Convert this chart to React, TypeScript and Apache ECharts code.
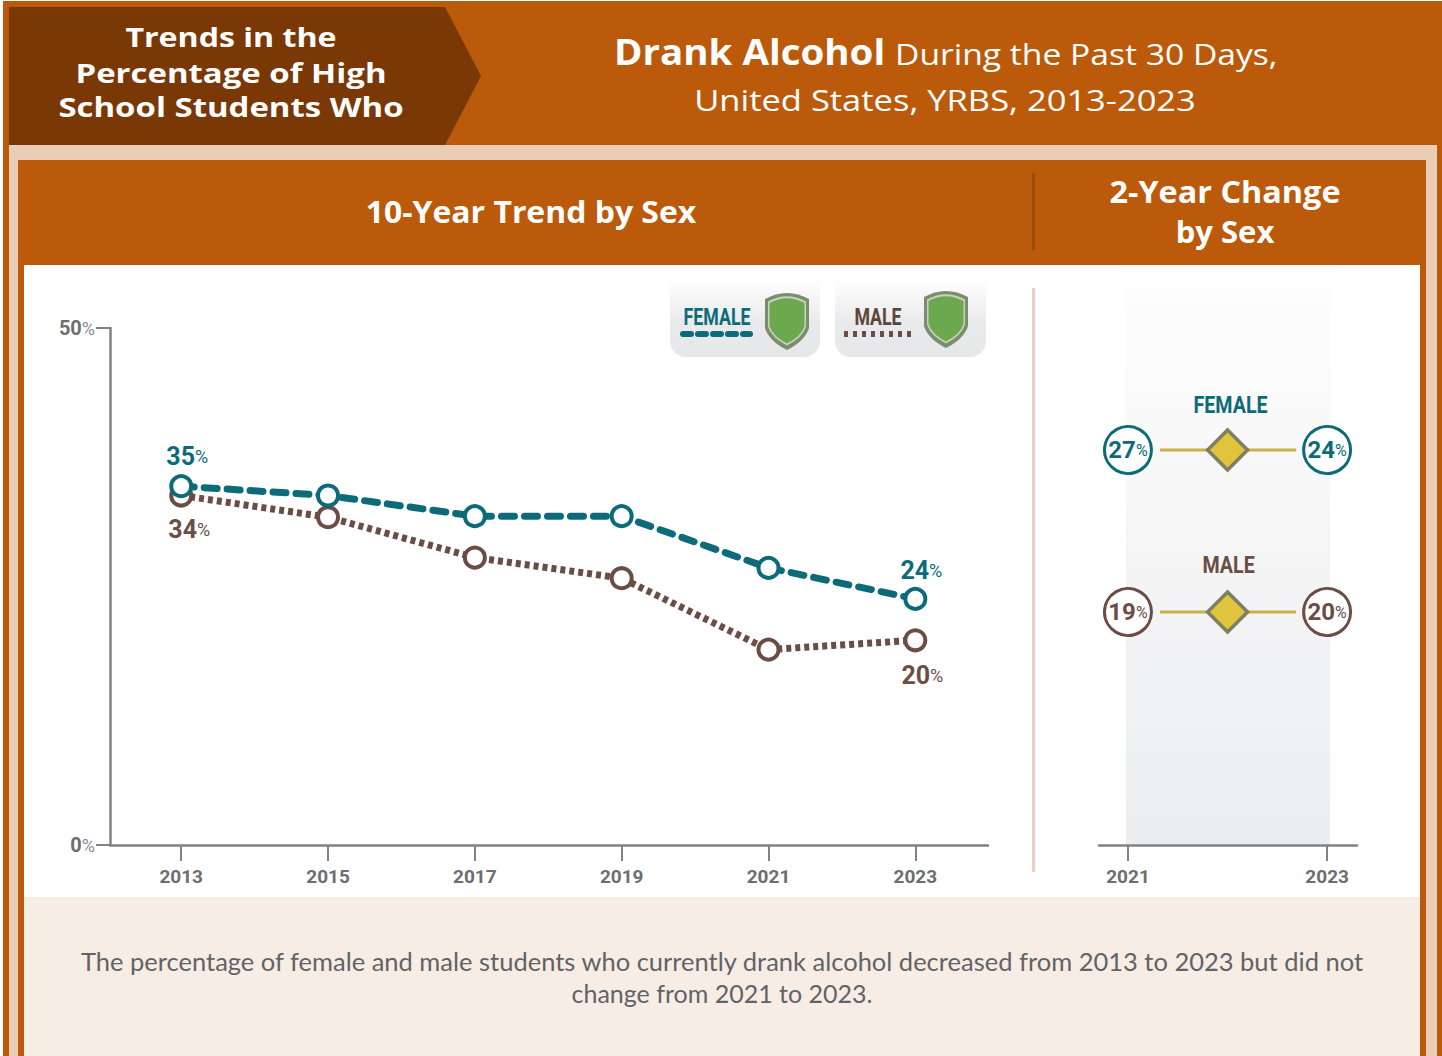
import React, { useEffect, useRef } from "react";
import * as echarts from "echarts";

const years = [2013, 2015, 2017, 2019, 2021, 2023];
const femaleValues = [34.7, 33.8, 31.8, 31.8, 26.8, 23.8];
const maleValues = [33.8, 31.7, 27.8, 25.8, 18.9, 19.8];
const femaleLabels: Record<number, string> = { 0: "35", 5: "24" };
const maleLabels: Record<number, string> = { 0: "34", 5: "20" };
const changeYears = [2021, 2023];
const changeRows = ["FEMALE", "MALE"];
const femaleChange = [27, 24];
const maleChange = [19, 20];
const yTicks = [0, 50];

const TEAL = "#0d6b79";
const BROWN = "#6b4d45";
const ORANGE = "#bc5a0b";
const PEACH = "#e9cdb6";
const GREY = "#6d6e71";
const NARROW = "Roboto";
const HEAD = "'Open Sans'";

echarts.graphic.registerShape(
  "shield",
  echarts.graphic.extendPath("M0 7 Q22 -5 44 7 L44 36 Q40 49 22 58 Q4 49 0 36 Z", {})
);

const rect = (x: number, y: number, w: number, h: number, fill: any, extra: any = {}) => ({
  type: "rect", silent: true, shape: { x, y, width: w, height: h, ...extra }, style: { fill },
});
const text = (t: string, x: number, y: number, font: string, fill: string, align = "center", scaleX = 1) => ({
  type: "text", silent: true, x, y, scaleX,
  style: { text: t, font, fill, align, verticalAlign: "middle" },
});
const shield = (x: number, y: number) => [
  { type: "shield", silent: true, x, y, scaleX: 1, scaleY: 1, style: { fill: "#7c8c6c" } },
  { type: "shield", silent: true, x: x + 3, y: y + 3.5, scaleX: 38 / 44, scaleY: 50 / 58, style: { fill: "#c9d2c0" } },
  { type: "shield", silent: true, x: x + 4.5, y: y + 5.5, scaleX: 35 / 44, scaleY: 46 / 58, style: { fill: "#6ba84e" } },
];
const legendGrad = () =>
  new echarts.graphic.LinearGradient(0, 0, 0, 1, [
    { offset: 0, color: "#ffffff" },
    { offset: 0.55, color: "#e9eaec" },
    { offset: 1, color: "#e6e7e9" },
  ]);

const pctLabel = (color: string, size: number, small: number) => ({
  a: { color, fontFamily: NARROW, fontWeight: "bold" as const, fontSize: size },
  b: { color, fontFamily: NARROW, fontSize: small },
});

const background = [
  rect(3, 1, 1439, 1055, ORANGE),
  { type: "polygon", silent: true, shape: { points: [[9, 7], [445, 7], [481, 76], [445, 145], [9, 145]] }, style: { fill: "#7a3806" } },
  rect(9, 145, 1428, 911, PEACH),
  rect(18, 160, 1408, 896, ORANGE),
  rect(24, 265, 1396, 632, "#ffffff"),
  rect(24, 897, 1396, 159, "#f7ede5"),
  rect(1126, 265, 204, 580, new echarts.graphic.LinearGradient(0, 0, 0, 1, [
    { offset: 0, color: "#fefefe" },
    { offset: 0.5, color: "#f5f5f6" },
    { offset: 1, color: "#ecedef" },
  ])),
  rect(1032, 173, 3, 77, "#9c4b0a"),
  rect(1032, 288, 3, 584, "#ecd0bd"),
  text("Trends in the", 231, 37, `bold 27px ${HEAD}`, "#ffffff", "center", 1.19),
  text("Percentage of High", 231, 73, `bold 27px ${HEAD}`, "#ffffff", "center", 1.22),
  text("School Students Who", 231, 107, `bold 27px ${HEAD}`, "#ffffff", "center", 1.22),
  text("Drank Alcohol", 614, 52, `bold 35px ${HEAD}`, "#ffffff", "left", 1.1),
  text("During the Past 30 Days,", 895, 53, `29px ${HEAD}`, "#ffffff", "left", 1.16),
  text("United States, YRBS, 2013-2023", 945, 100, `29px ${HEAD}`, "#ffffff", "center", 1.19),
  text("10-Year Trend by Sex", 531, 211, `bold 31px ${HEAD}`, "#ffffff", "center", 1.03),
  text("2-Year Change", 1225, 191, `bold 31px ${HEAD}`, "#ffffff", "center", 1.045),
  text("by Sex", 1225, 231, `bold 31px ${HEAD}`, "#ffffff", "center", 1.0),
  rect(670, 280, 150, 77, legendGrad(), { r: [0, 0, 16, 16] }),
  rect(835, 280, 151, 77, legendGrad(), { r: [0, 0, 16, 16] }),
  text("FEMALE", 717, 316, `bold 24px ${NARROW}`, TEAL, "center", 0.74),
  text("MALE", 878, 316, `bold 24px ${NARROW}`, "#5b4636", "center", 0.74),
  { type: "line", silent: true, shape: { x1: 683, y1: 334, x2: 750, y2: 334 }, style: { stroke: TEAL, lineWidth: 6, lineDash: [8, 7], lineCap: "round" } },
  { type: "line", silent: true, shape: { x1: 844, y1: 334, x2: 911, y2: 334 }, style: { stroke: BROWN, lineWidth: 6, lineDash: [4, 5] } },
  ...shield(765, 292),
  ...shield(924, 290),
  text("The percentage of female and male students who currently drank alcohol decreased from 2013 to 2023 but did not", 722, 961, `25px Lato`, "#626366", "center", 1.02),
  text("change from 2021 to 2023.", 722, 993, `25px Lato`, "#626366", "center", 1.0),
];

const lineSeries = (name: string, values: number[], labels: Record<number, string>, color: string, dash: number[], cap: string, offsets: Record<number, number[]>, z: number, width: number) => ({
  type: "line", name, xAxisIndex: 0, yAxisIndex: 0, z,
  data: values.map((v, i) => ({
    value: [years[i], v],
    label: labels[i] ? {
      show: true, position: "inside", offset: offsets[i],
      formatter: `{a|${labels[i]}}{b|%}`, rich: pctLabel(color, 25, 18),
    } : { show: false },
  })),
  symbol: "circle", symbolSize: 20, showAllSymbol: true,
  itemStyle: { color: "#ffffff", borderColor: color, borderWidth: 4, opacity: 1 },
  lineStyle: { color, width, type: dash, cap },
});

const changeSeries = (name: string, row: number, vals: number[], color: string) => ({
  type: "scatter", name, xAxisIndex: 2, yAxisIndex: 2, z: 6,
  symbol: "circle", symbolSize: 47,
  itemStyle: { color: "#ffffff", borderColor: color, borderWidth: 3, opacity: 1 },
  data: changeYears.map((y, i) => ({
    value: [y, row],
    label: { show: true, position: "inside", formatter: `{a|${vals[i]}}{b|%}`, rich: pctLabel(color, 24, 16) },
  })),
});

const rowColors = [TEAL, BROWN];

const option: any = {
  animation: false,
  graphic: { elements: background },
  grid: [
    { left: 110, top: 328, width: 878, height: 517 },
    { left: 1099, top: 265, width: 258, height: 580 },
    { left: 1099, top: 369, width: 258, height: 324 },
  ],
  xAxis: [
    {
      type: "value", gridIndex: 0, min: 2012.03, max: 2023.99,
      axisLine: { onZero: false, lineStyle: { color: "#808285", width: 2.5 } },
      axisTick: { customValues: years, length: 16, lineStyle: { color: "#808285", width: 2 } },
      axisLabel: { customValues: years, margin: 21.5, color: GREY, fontFamily: "Roboto", fontWeight: "bold", fontSize: 19, formatter: (v: number) => String(v), showMinLabel: true, showMaxLabel: true },
      splitLine: { show: false },
    },
    {
      type: "value", gridIndex: 1, min: 2020.709, max: 2023.3,
      axisLine: { onZero: false, lineStyle: { color: "#808285", width: 2.5 } },
      axisTick: { customValues: changeYears, length: 16, lineStyle: { color: "#808285", width: 2 } },
      axisLabel: { customValues: changeYears, margin: 21.5, color: GREY, fontFamily: "Roboto", fontWeight: "bold", fontSize: 19, formatter: (v: number) => String(v) },
      splitLine: { show: false },
    },
    { type: "value", gridIndex: 2, min: 2020.709, max: 2023.3, show: false },
  ],
  yAxis: [
    {
      type: "value", gridIndex: 0, min: yTicks[0], max: yTicks[1], interval: yTicks[1],
      axisLine: { show: true, onZero: false, lineStyle: { color: "#808285", width: 2.5 } },
      axisTick: { show: true, length: 14, lineStyle: { color: "#808285", width: 2 } },
      axisLabel: {
        margin: 15, formatter: (v: number) => `{a|${v}}{b|%}`,
        rich: {
          a: { color: GREY, fontFamily: NARROW, fontWeight: "bold", fontSize: 20 },
          b: { color: "#8a8b8e", fontFamily: NARROW, fontSize: 18 },
        },
      },
      splitLine: { show: false },
    },
    { type: "value", gridIndex: 1, min: 0, max: 1, show: false },
    { type: "category", gridIndex: 2, data: changeRows, inverse: true, show: false },
  ],
  series: [
    lineSeries("MALE", maleValues, maleLabels, BROWN, [5, 4], "butt", { 0: [8, 34], 5: [7, 35] }, 3, 7),
    lineSeries("FEMALE", femaleValues, femaleLabels, TEAL, [13, 10], "round", { 0: [6, -30], 5: [6, -28] }, 4, 7),
    {
      type: "custom", xAxisIndex: 2, yAxisIndex: 2, z: 5,
      encode: { x: [0, 1], y: 2 },
      data: changeRows.map((_, i) => [changeYears[0], changeYears[1], i]),
      renderItem: (_: any, api: any) => {
        const i = api.value(2);
        const a = api.coord([api.value(0), i]);
        const b = api.coord([api.value(1), i]);
        const cx = (a[0] + b[0]) / 2;
        const cy = a[1];
        return {
          type: "group",
          children: [
            { type: "line", shape: { x1: a[0] + 32, y1: cy, x2: b[0] - 31, y2: cy }, style: { stroke: "#c6b14a", lineWidth: 3 } },
            { type: "polygon", shape: { points: [[cx, cy - 20], [cx + 20, cy], [cx, cy + 20], [cx - 20, cy]] }, style: { fill: "#e0c53c", stroke: "#7f7d62", lineWidth: 3.5 } },
            { type: "text", x: cx + (i === 0 ? 3 : 1), y: cy + (i === 0 ? -45 : -47), scaleX: 0.82, style: { text: changeRows[i], font: `bold 24px ${NARROW}`, fill: rowColors[i], align: "center", verticalAlign: "middle" } },
          ],
        };
      },
    },
    changeSeries("FEMALE change", 0, femaleChange, TEAL),
    changeSeries("MALE change", 1, maleChange, BROWN),
  ],
};

export default function App() {
  const ref = useRef<HTMLDivElement>(null);
  useEffect(() => {
    document.body.style.margin = "0";
    const chart = echarts.init(ref.current!, null, { renderer: "svg" });
    chart.setOption(option);
    return () => chart.dispose();
  }, []);
  return <div ref={ref} style={{ width: 1442, height: 1056 }} />;
}
